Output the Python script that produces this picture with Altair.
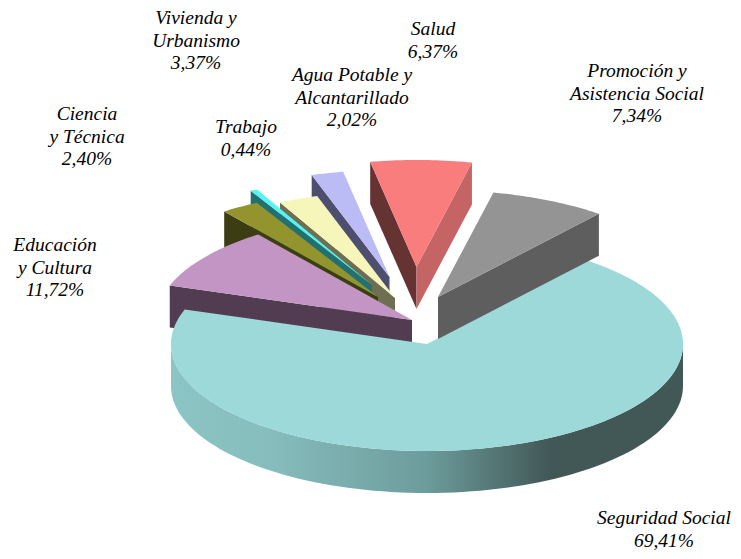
import math
import altair as alt

# ---- values ----
categories = ["Seguridad Social", "Educación", "Ciencia", "Trabajo", "Vivienda", "Agua", "Salud", "Promoción"]
# share of the full turn that each slice really covers in the drawing
drawn_share = [69.41, 9.50, 2.40, 0.44, 2.50, 2.02, 6.37, 7.34]
label_texts = [
    "Seguridad Social\n69,41%",
    "Educación\ny Cultura\n11,72%",
    "Ciencia\ny Técnica\n2,40%",
    "Trabajo\n0,44%",
    "Vivienda y\nUrbanismo\n3,37%",
    "Agua Potable y\nAlcantarillado\n2,02%",
    "Salud\n6,37%",
    "Promoción y\nAsistencia Social\n7,34%",
]

# ---- layout and style ----
W, H = 725, 543
RX, RY, DEPTH = 256, 107, 42
START_ANGLE = 51
apex_x = [427, 412, 378, 372, 395, 389.5, 416.5, 438]
apex_y = [344, 320, 297, 285, 298, 277, 267, 297]
top_fill = ["#9cd9d8", "#c295c4", "#94942e", "#55f5f5", "#f6f6bb", "#bbbbf6", "#fa7d7d", "#949494"]
left_wall = [None, "#523c52", "#3d3d13", "#237070", "#6e6e52", "#4e4e6e", "#663333", None]
right_wall = [None, None, None, None, None, None, "#c46464", "#5e5e5e"]
label_x = [664, 55, 87, 246, 196, 352, 433, 637]
label_y = [518, 245, 114, 127, 18, 75, 29, 71]
draw_order = [5, 4, 3, 2, 1, 0, 6, 7]


def rim(i, t):
    a = math.radians(t)
    return (apex_x[i] + RX * math.cos(a), apex_y[i] - RY * math.sin(a))


def feature(points, fill):
    ring = [list(p) for p in points] + [list(points[0])]
    return {"type": "Feature", "properties": {"fill": fill},
            "geometry": {"type": "Polygon", "coordinates": [ring]}}


def down(p):
    return (p[0], p[1] + DEPTH)


# slice angles follow the shares, clockwise from START_ANGLE
bounds = {}
t = START_ANGLE
for i, share in enumerate(drawn_share):
    bounds[i] = (t, t - share * 3.6)
    t -= share * 3.6


def slice_features(i):
    hi, lo = bounds[i]
    apex = (apex_x[i], apex_y[i])
    n = max(2, int(abs(hi - lo)) + 1)
    arc = [rim(i, hi + (lo - hi) * k / n) for k in range(n + 1)]
    out = []
    if left_wall[i]:
        p = rim(i, hi)
        out.append(feature([apex, p, down(p), down(apex)], left_wall[i]))
    if right_wall[i]:
        p = rim(i, lo)
        out.append(feature([apex, p, down(p), down(apex)], right_wall[i]))
    out.append(feature([apex] + arc, top_fill[i]))
    return out


back, front = [], []
for i in draw_order:
    if i == 0:
        break
    back += slice_features(i)
for i in draw_order[draw_order.index(0) + 1:]:
    front += slice_features(i)

# outer wall of the large slice, visible along the front of the ellipse
wall_angles = [180 + k * 2 for k in range(0, 91)]
wall_top = [rim(0, a) for a in wall_angles]
main_wall = [feature(wall_top + [down(p) for p in reversed(wall_top)], "none")]
main_top = slice_features(0)

projection = alt.Projection(type="identity", scale=1, translate=[-8, -8])


def layer(features):
    return alt.Chart(alt.Data(values=features)).mark_geoshape(stroke=None).encode(
        fill=alt.Fill("properties.fill:N", scale=None)
    ).project(**projection.to_dict())


gradient = alt.Gradient(
    gradient="linear", x1=0, x2=1, y1=0, y2=0,
    stops=[
        alt.GradientStop(offset=0, color="#8cc5c5"),
        alt.GradientStop(offset=0.2, color="#86bcbc"),
        alt.GradientStop(offset=0.5, color="#6c9c9b"),
        alt.GradientStop(offset=0.74, color="#415857"),
        alt.GradientStop(offset=1, color="#415857"),
    ],
)
wall_layer = alt.Chart(alt.Data(values=main_wall)).mark_geoshape(
    fill=gradient, stroke=None
).project(**projection.to_dict())

labels = [{"text": s, "x": x - 8, "y": y - 8, "name": c}
          for s, x, y, c in zip(label_texts, label_x, label_y, categories)]
text_layer = alt.Chart(alt.Data(values=labels)).mark_text(
    font="Liberation Serif", fontSize=19.5, fontStyle="italic", color="#000000",
    align="center", baseline="middle", lineBreak="\n", lineHeight=22.5,
).encode(
    x=alt.X("x:Q", scale=None), y=alt.Y("y:Q", scale=None), text="text:N"
)

chart = alt.layer(
    layer(back), wall_layer, layer(main_top), layer(front), text_layer
).properties(
    width=W, height=H, padding=0, autosize=alt.AutoSizeParams(type="none"),
    background="white",
).configure_view(stroke=None)

chart.save("out.html", embed_options={"renderer": "svg", "actions": False})
